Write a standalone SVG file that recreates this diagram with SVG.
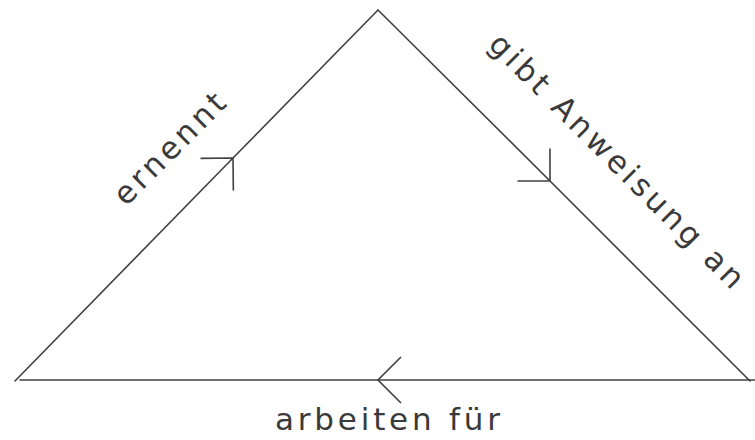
<svg xmlns="http://www.w3.org/2000/svg" width="755" height="440" viewBox="0 0 755 440">
<defs>
<style>
.edge{fill:none;stroke:#404040;stroke-width:1.6;stroke-linecap:round}
.lbl{font-family:"DejaVu Sans","Liberation Sans",Arial,sans-serif;font-size:31px;fill:#3a3a3a}
</style>
<marker id="arr" viewBox="-30 -30 60 60" markerWidth="60" markerHeight="60" refX="0" refY="0" orient="auto" markerUnits="userSpaceOnUse">
<path d="M-23,-23 L0,0 L-23,23" fill="none" stroke="#404040" stroke-width="1.6"/>
</marker>
</defs>
<rect width="755" height="440" fill="#ffffff"/>
<g id="connectors">
<polyline id="ernennt-edge" class="edge" points="15,381 233,158 378,10" marker-mid="url(#arr)"/>
<polyline id="anweisung-edge" class="edge" points="378,10 550,181 750,381" marker-mid="url(#arr)"/>
<polyline id="arbeiten-edge" class="edge" points="755,380 378,380 20,380" marker-mid="url(#arr)"/>
</g>
<g id="label-ernennt">
<text class="lbl" transform="translate(126,207) rotate(-45)" textLength="144" lengthAdjust="spacing">ernennt</text>
</g>
<g id="label-anweisung">
<text class="lbl" transform="translate(487,46) rotate(45)" textLength="346" lengthAdjust="spacing">gibt Anweisung an</text>
</g>
<g id="label-arbeiten">
<text class="lbl" x="275" y="430" textLength="225" lengthAdjust="spacing">arbeiten für</text>
</g>
</svg>
